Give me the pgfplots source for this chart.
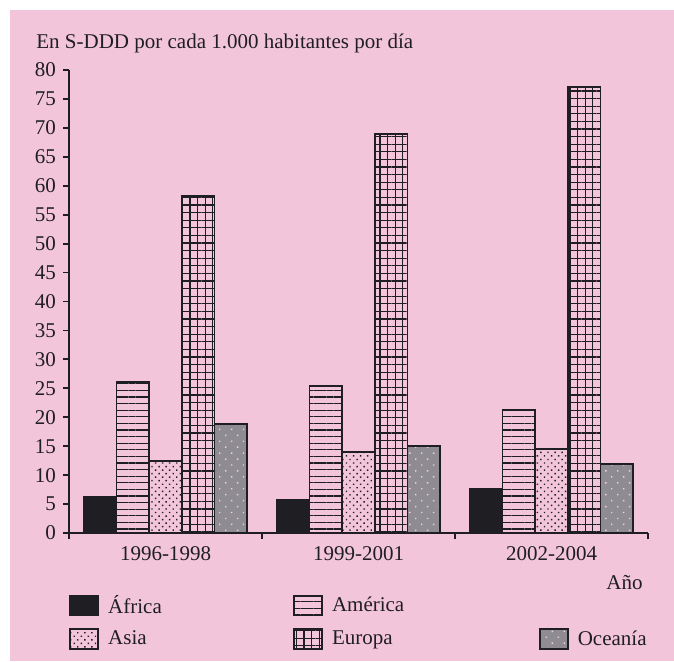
\documentclass[border=0pt]{standalone}
\usepackage{pgfplots}
\pgfplotsset{compat=1.18}
\usetikzlibrary{patterns.meta}
\usepackage{fontspec}
\setmainfont{Liberation Serif}
\definecolor{bgpink}{HTML}{F3C5DB}
\definecolor{ink}{HTML}{1F1E22}
\definecolor{ocgray}{HTML}{8E8C92}
\definecolor{dotpink}{HTML}{F4CDE0}
\pgfplotsset{
  legbox/.style={legend image code/.code={\draw[##1] (0pt,-4.8pt) rectangle (14pt,5pt);}},
  africa/.style={fill=ink, draw=ink, line width=0.9pt},
  america/.style={draw=ink, line width=0.9pt, pattern={Lines[angle=0,distance=3.3pt,line width=0.55pt]}, pattern color=ink},
  asia/.style={draw=ink, line width=0.9pt, pattern={Dots[angle=45,distance=2.5pt,radius=0.5pt]}, pattern color=ink},
  europa/.style={draw=ink, line width=0.9pt, pattern={Hatch[angle=0,distance=3.8pt,line width=0.55pt]}, pattern color=ink},
  oceania/.style={draw=ink, line width=0.9pt, preaction={fill=ocgray}, pattern={Dots[angle=45,distance=4.2pt,radius=0.5pt]}, pattern color=dotpink},
}
\begin{document}
\begin{tikzpicture}[x=1pt,y=1pt]
\path (0,0) rectangle (337,330.5);
\fill[bgpink] (5,0) rectangle (337,325.5);
\node[anchor=base west, inner sep=0, font=\fontsize{10.5}{12}\selectfont, text=ink] at (18,306.5) {En S-DDD por cada 1.000 habitantes por día};
\begin{axis}[
  at={(34.5pt,64pt)}, anchor=south west,
  scale only axis, width=289.5pt, height=231.5pt,
  xmin=-0.5, xmax=2.5, ymin=0, ymax=80,
  axis x line*=bottom, axis y line*=left,
  axis line style={ink, line width=0.9pt},
  ytick={0,5,...,80},
  xtick={-0.5,0.5,1.5,2.5}, xticklabels={},
  extra x ticks={0,1,2},
  extra x tick labels={1996-1998,1999-2001,2002-2004},
  extra x tick style={major tick length=0pt, xticklabel style={yshift=-3pt}},
  tick align=outside, major tick length=3pt,
  tick style={ink, line width=0.9pt},
  ticklabel style={font=\fontsize{10.5}{12}\selectfont, text=ink},
  /pgf/number format/assume math mode=true,
  xlabel={Año},
  xlabel style={at={(axis description cs:1,0)}, anchor=north east, inner sep=0pt, yshift=-21pt, xshift=-2.5pt, font=\fontsize{10.5}{12}\selectfont, text=ink},
  legend columns=3,
  legend cell align=left,
  legend style={draw=none, fill=none, at={(axis description cs:0,0)}, anchor=north west, xshift=-3pt, yshift=-27pt,
    font=\fontsize{10.5}{12}\selectfont, text=ink, row sep=3pt,
    /tikz/every even column/.append style={column sep=0pt}},
]
\addplot[ybar, forget plot, bar width=0.1695, bar shift=-0.339, africa] coordinates {(0,6.2) (1,5.7) (2,7.6)};
\addplot[ybar, forget plot, bar width=0.1695, bar shift=-0.1695, america] coordinates {(0,26.1) (1,25.4) (2,21.2)};
\addplot[ybar, forget plot, bar width=0.1695, bar shift=0, asia] coordinates {(0,12.5) (1,14.0) (2,14.5)};
\addplot[ybar, forget plot, bar width=0.1695, bar shift=0.1695, europa] coordinates {(0,58.3) (1,68.9) (2,77.0)};
\addplot[ybar, forget plot, bar width=0.1695, bar shift=0.339, oceania] coordinates {(0,18.9) (1,15.1) (2,11.9)};
\addlegendimage{legbox, africa}
\addlegendentry{\makebox[93pt][l]{\hspace*{2.5pt}África}}
\addlegendimage{legbox, america}
\addlegendentry{\makebox[104pt][l]{\hspace*{2.5pt}América}}
\addlegendimage{empty legend}
\addlegendentry{\mbox{}}
\addlegendimage{legbox, asia}
\addlegendentry{\makebox[93pt][l]{\hspace*{2.5pt}Asia}}
\addlegendimage{legbox, europa}
\addlegendentry{\makebox[104pt][l]{\hspace*{2.5pt}Europa}}
\addlegendimage{legbox, oceania}
\addlegendentry{\hspace*{2.5pt}Oceanía}
\end{axis}
\end{tikzpicture}
\end{document}
